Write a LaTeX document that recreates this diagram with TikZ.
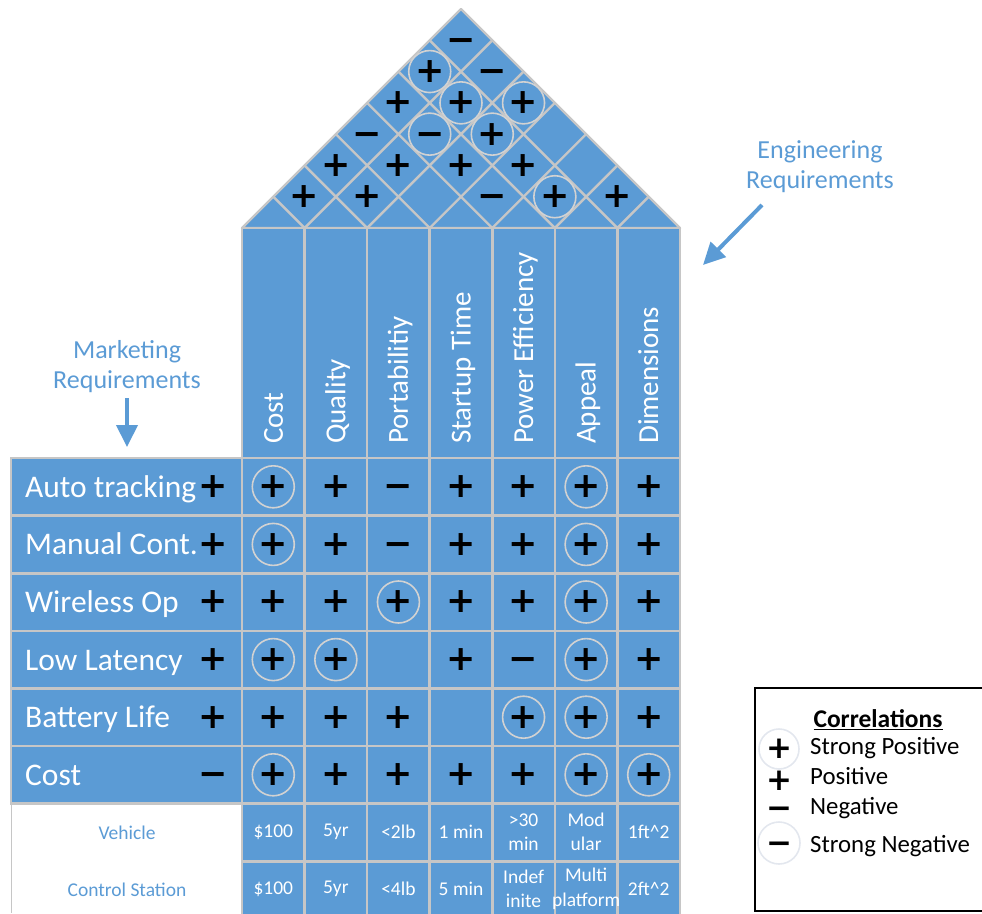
\documentclass[tikz,border=0pt]{standalone}
\usepackage{fontspec}
\setmainfont{Carlito}
\newfontfamily\signfont{DejaVu Sans}
\usetikzlibrary{arrows.meta}
\definecolor{qblue}{HTML}{5B9BD5}
\definecolor{qgray}{HTML}{C6C6C6}
\definecolor{ringgray}{HTML}{D2D2D2}
\definecolor{legring}{HTML}{E3E7EE}
\definecolor{labblue}{HTML}{5B9BD5}
\tikzset{
  cellbox/.style={fill=qblue, draw=qgray, line width=2.6pt},
  roofline/.style={draw=qgray, line width=2.4pt},
  sgn/.style={font=\signfont\bfseries\fontsize{35}{35}\selectfont, inner sep=0pt, text=black},
  sgp/.style={sgn},
  sgm/.style={sgn},
  sgP/.style={sgn, circle, draw=ringgray, line width=1.6pt, minimum size=42pt},
  sgM/.style={sgP},
  legsign/.style={font=\signfont\bfseries\fontsize{31}{31}\selectfont, inner sep=0pt, text=black},
  legcirc/.style={draw=legring, line width=1.6pt},
  rowlab/.style={anchor=base west, inner sep=0pt, text=white, font=\fontsize{31.5}{31.5}\selectfont},
  colhead/.style={rotate=90, anchor=base west, inner sep=0pt, text=white, font=\fontsize{29}{29}\selectfont},
  spec/.style={text=white, align=center, inner sep=0pt, font=\fontsize{19.5}{24.5}\selectfont},
  speclab/.style={text=labblue, inner sep=0pt, font=\fontsize{19.5}{24}\selectfont},
  sidelab/.style={text=labblue, align=center, inner sep=0pt, font=\fontsize{26}{30}\selectfont},
  bluearrow/.style={draw=labblue, line width=4pt, -{Triangle[length=22pt,width=21pt]}},
  legtext/.style={anchor=west, inner sep=0pt, font=\fontsize{24.8}{25}\selectfont},
}
\def\symp{+}\def\symP{+}\def\symm{\vphantom{+}−}\def\symM{\vphantom{+}−}
\begin{document}
\begin{tikzpicture}[x=1pt,y=-1pt]
\useasboundingbox (0,0) rectangle (982,913);
\def\W{62.5714}
\def\H{57.6}
% ---------- roof
\coordinate (rl) at (242,228);
\coordinate (rt) at (461,9);
\coordinate (rr) at (680,228);
\fill[qblue] (rl) -- (rt) -- (rr) -- cycle;
\foreach \k in {1,...,6}{
  \pgfmathsetmacro\xk{242+\W*\k}
  \pgfmathsetmacro\xa{(\xk+680)/2}
  \pgfmathsetmacro\ya{228-(680-\xk)/2}
  \pgfmathsetmacro\xb{(\xk+242)/2}
  \pgfmathsetmacro\yb{228-(\xk-242)/2}
  \draw[roofline] (\xb,\yb) -- (\xk,228) -- (\xa,\ya);
}
\draw[roofline, line join=round] (rl) -- (rt) -- (rr) -- cycle;
% ---------- header columns and grid
\foreach \i in {0,...,6}{
  \pgfmathsetmacro\xl{242+\W*\i}
  \pgfmathsetmacro\xr{242+\W*(\i+1)}
  \draw[cellbox] (\xl,228) rectangle (\xr,458);
  \foreach \r in {0,...,7}{
    \pgfmathsetmacro\yt{458+\H*\r}
    \pgfmathsetmacro\ybot{458+\H*(\r+1)}
    \draw[cellbox] (\xl,\yt) rectangle (\xr,\ybot);
  }
}
\foreach \r in {0,...,5}{
  \pgfmathsetmacro\yt{458+\H*\r}
  \pgfmathsetmacro\ybot{458+\H*(\r+1)}
  \draw[cellbox] (11,\yt) rectangle (242,\ybot);
}
\draw[qgray, line width=1pt] (11,805) -- (11,913);
% ---------- roof correlations
\foreach \i/\d/\s in {0/1/p,1/1/p,3/1/m,4/1/P,5/1/p,
                      0/2/p,1/2/p,2/2/p,3/2/p,
                      0/3/m,1/3/M,2/3/P,
                      0/4/p,1/4/P,2/4/P,
                      0/5/P,1/5/m,
                      0/6/m}{
  \pgfmathsetmacro\cx{242+\W*(\i+0.5+\d/2)}
  \pgfmathsetmacro\cy{228-\d*\W/2}
  \node[sg\s] (rf-\i-\d) at (\cx,\cy) {\csname sym\s\endcsname};
}
% ---------- column headers
\foreach \t [count=\i from 0] in {Cost,Quality,Portabilitiy,Startup Time,Power Efficiency,Appeal,Dimensions}{
  \pgfmathsetmacro\cx{242+\W*(\i+0.5)+9.5}
  \node[colhead] (hd-\i) at (\cx,444) {\t};
}
% ---------- row labels
\foreach \t/\s [count=\r from 0] in {Auto tracking/p,Manual Cont./p,Wireless Op/p,Low Latency/p,Battery Life/p,Cost/m}{
  \pgfmathsetmacro\cy{458+\H*(\r+0.5)}
  \pgfmathsetmacro\by{\cy+10.5}
  \node[rowlab] (lab-\r) at (25,\by) {\t};
  \node[sg\s] (ls-\r) at (213,\cy) {\csname sym\s\endcsname};
}
% ---------- relationship matrix
\foreach \r/\c/\s in {0/0/P,0/1/p,0/2/m,0/3/p,0/4/p,0/5/P,0/6/p,
                      1/0/P,1/1/p,1/2/m,1/3/p,1/4/p,1/5/P,1/6/p,
                      2/0/p,2/1/p,2/2/P,2/3/p,2/4/p,2/5/P,2/6/p,
                      3/0/P,3/1/P,3/3/p,3/4/m,3/5/P,3/6/p,
                      4/0/p,4/1/p,4/2/p,4/4/P,4/5/P,4/6/p,
                      5/0/P,5/1/p,5/2/p,5/3/p,5/4/p,5/5/P,5/6/P}{
  \pgfmathsetmacro\cy{458+\H*(\r+0.5)}
  \pgfmathsetmacro\cx{242+\W*(\c+0.5)}
  \node[sg\s] (m-\r-\c) at (\cx,\cy) {\csname sym\s\endcsname};
}
% ---------- target values
\node[speclab] (veh) at (127,833) {Vehicle};
\node[speclab] (cst) at (127,890) {Control Station};
\foreach \t [count=\i from 0] in {{\$100},{5yr},{<2lb},{1 min},{>30\\min},{Mod\\ular},{1ft\textasciicircum 2}}{
  \pgfmathsetmacro\cx{242+\W*(\i+0.5)}
  \node[spec] (va-\i) at (\cx,832) {\t};
}
\foreach \t [count=\i from 0] in {{\$100},{5yr},{<4lb},{5 min},{Indef\\inite},{Multi\\platform},{2ft\textasciicircum 2}}{
  \pgfmathsetmacro\cx{242+\W*(\i+0.5)}
  \node[spec] (vb-\i) at (\cx,889) {\t};
}
% ---------- side labels and arrows
\node[sidelab] (mk) at (127,367) {Marketing\\Requirements};
\coordinate (mks) at (127,398);
\coordinate (mkt) at (127,447);
\draw[bluearrow] (mks) -- (mkt);
\node[sidelab] (eng) at (820,167) {Engineering\\Requirements};
\coordinate (engs) at (762,205);
\coordinate (engt) at (703,265);
\draw[bluearrow] (engs) -- (engt);
% ---------- legend
\node[draw=black, line width=2pt, anchor=north west, minimum width=270pt, minimum height=223pt, inner sep=0pt] (leg) at (754,687) {};
\node[inner sep=0pt, font=\bfseries\fontsize{25.5}{25.5}\selectfont] (legt) at (878,720) {\underline{Correlations}};
\node[legsign] (lg-sp) at (779,749) {+};
\draw[legcirc] (lg-sp.center) circle[radius=20pt];
\node[legsign] (lg-p) at (779,781) {+};
\node[legsign] (lg-n) at (779,813) {−};
\node[legsign] (lg-sn) at (779,848) {−};
\draw[legcirc] ([yshift=5pt]lg-sn.center) circle[radius=21pt];
\node[legtext] (lt-sp) at (810,748) {Strong Positive};
\node[legtext] (lt-p) at (810,776) {Positive};
\node[legtext] (lt-n) at (810,808) {Negative};
\node[legtext] (lt-sn) at (810,846) {Strong Negative};
\end{tikzpicture}
\end{document}
